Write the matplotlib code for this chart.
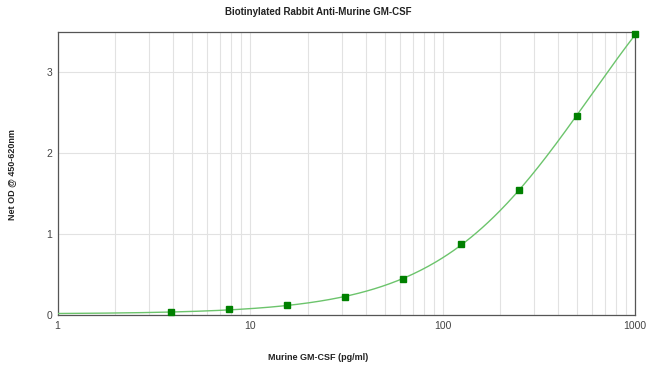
import matplotlib
matplotlib.use('Agg')
import matplotlib.pyplot as plt
from matplotlib.ticker import FixedLocator, NullFormatter
import numpy as np

plt.rcParams['font.family'] = ['Liberation Sans', 'DejaVu Sans']

conc = [3.9, 7.8, 15.6, 31.25, 62.5, 125, 250, 500, 1000]
od = [0.04, 0.07, 0.12, 0.22, 0.44, 0.88, 1.55, 2.46, 3.47]

title = 'Biotinylated Rabbit Anti-Murine GM-CSF'
xlabel = 'Murine GM-CSF (pg/ml)'
ylabel = 'Net OD @ 450-620nm'


def fit_4pl(x, y):
    # grid search on slope/midpoint, linear least squares for the asymptotes
    x = np.asarray(x, float)
    y = np.asarray(y, float)
    best = None
    for b in np.linspace(0.5, 3.0, 126):
        for c in np.logspace(1.5, 4.5, 301):
            g = 1.0 / (1.0 + (x / c) ** b)
            A = np.column_stack([g, 1 - g])
            sol, *_ = np.linalg.lstsq(A, y, rcond=None)
            err = np.sum((A @ sol - y) ** 2)
            if best is None or err < best[0]:
                best = (err, sol[0], sol[1], b, c)
    return best[1:]


a, d, b, c = fit_4pl(conc, od)
xs = np.logspace(0, 3, 300)
ys = d + (a - d) / (1 + (xs / c) ** b)

fig = plt.figure(figsize=(6.5, 3.74), dpi=100)
ax = fig.add_axes([57.5 / 650, 59 / 374, (635 - 57.5) / 650, (315 - 32) / 374])

ax.plot(xs, ys, color='#6cc46c', lw=1.0, zorder=3)
ax.plot(conc, od, 's', color='#008000', ms=4.5, zorder=4, clip_on=False)

ax.set_xscale('log')
ax.set_xlim(1, 1000)
ax.set_ylim(0, 3.5)
ax.set_yticks([0, 1, 2, 3])
ax.set_xticks([1, 10, 100, 1000])
ax.set_xticklabels(['1', '10', '100', '1000'])
ax.xaxis.set_minor_locator(FixedLocator([m * dd for dd in (1, 10, 100) for m in range(2, 10)]))
ax.xaxis.set_minor_formatter(NullFormatter())

ax.grid(True, which='both', axis='x', color='#e2e2e2', lw=0.8)
ax.grid(True, which='major', axis='y', color='#e2e2e2', lw=0.8)
ax.tick_params(which='both', length=0, labelsize=7.5, labelcolor='#444444')
ax.tick_params(axis='x', pad=4)
ax.tick_params(axis='y', pad=4)

for s in ax.spines.values():
    s.set_color('#555555')
    s.set_linewidth(0.9)

fig.text(318 / 650, 1 - 12 / 374, title, ha='center', va='center', fontsize=7, fontweight='bold', color='#222222')
fig.text(318 / 650, 1 - 357 / 374, xlabel, ha='center', va='center', fontsize=6.5, fontweight='bold', color='#222222')
fig.text(12 / 650, 1 - 175 / 374, ylabel, ha='center', va='center', rotation=90, fontsize=6.5, fontweight='bold', color='#222222')

fig.savefig('out.png', dpi=100)
